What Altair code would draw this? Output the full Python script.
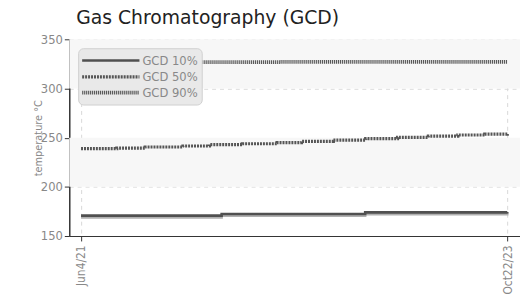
import altair as alt
import pandas as pd

series_names = ["GCD 10%", "GCD 50%", "GCD 90%"]

gcd10_dates = ["2021-06-04", "2022-03-18", "2023-01-05", "2023-10-22"]
gcd10_vals = [170.7, 172.3, 174.0, 174.3]

gcd50_dates = ["2021-06-04", "2021-08-16", "2021-10-13", "2021-12-29", "2022-02-21",
               "2022-04-29", "2022-07-09", "2022-08-28", "2022-11-01", "2023-01-06",
               "2023-03-12", "2023-05-14", "2023-07-13", "2023-09-06", "2023-10-22"]
gcd50_vals = [238.8, 239.3, 240.5, 241.5, 243.0, 243.8, 245.0, 246.2, 247.5, 249.0,
              250.3, 251.5, 252.7, 253.6, 254.3]

gcd90_dates = ["2021-06-04", "2022-07-15", "2023-10-22"]
gcd90_vals = [326.8, 327.0, 327.3]

band_lo = [300, 200]
band_hi = [350, 250]

rows = []
for name, ds, vs in [(series_names[0], gcd10_dates, gcd10_vals),
                     (series_names[1], gcd50_dates, gcd50_vals),
                     (series_names[2], gcd90_dates, gcd90_vals)]:
    for d, v in zip(ds, vs):
        rows.append({"date": d, "temp": v, "series": name})
df = pd.DataFrame(rows)
bands = pd.DataFrame({"lo": band_lo, "hi": band_hi})

FONT = "DejaVu Sans Condensed, Roboto Condensed, Liberation Sans Narrow, Roboto, sans-serif"
W, H = 456, 199

yscale = alt.Scale(domain=[150, 350], nice=False, zero=False)
xscale = alt.Scale(type="utc", domain=[alt.DateTime(year=2021, month=5, date=11, utc=True),
                                       alt.DateTime(year=2023, month=11, date=17, utc=True)], nice=False)

band_layer = alt.Chart(bands).mark_rect(color="#f7f7f7").encode(
    y=alt.Y("lo:Q", scale=yscale),
    y2="hi:Q",
    x=alt.value(0),
    x2=alt.value(W),
)

xaxis = alt.Axis(
    values=[alt.DateTime(year=2021, month=6, date=4, utc=True),
            alt.DateTime(year=2023, month=10, date=22, utc=True)],
    labelExpr="utcFormat(datum.value, '%b%-d/%y')",
    labelAngle=270, labelColor="#888", labelFontSize=12, labelFont=FONT,
    title=None, grid=True, gridDash=[4, 4], gridColor="#d8d8d8",
    domainColor="#333", tickColor="#333", tickSize=5, labelPadding=4,
)
yaxis = alt.Axis(
    values=[150, 200, 250, 300, 350],
    labelColor="#888", labelFontSize=13, labelFont=FONT,
    title="temperature °C", titleColor="#888", titleFontSize=11, titleFont=FONT,
    titleFontWeight="normal", titlePadding=-3,
    grid=True, gridDash=[4, 4], gridColor="#d8d8d8",
    domainColor="#333", tickColor="#333", tickSize=5, domainWidth=1.5,
)

shadow = alt.Chart(df).transform_filter(alt.datum.series == series_names[0]).mark_line(
    color="#b0b0b0", strokeWidth=2.5, yOffset=1.8, interpolate="step-after"
).encode(
    x=alt.X("date:T", scale=xscale, axis=xaxis),
    y=alt.Y("temp:Q", scale=yscale, axis=yaxis),
)

legend = alt.Legend(
    title=None, orient="none", legendX=9, legendY=9,
    fillColor="#e9e9e9", strokeColor="#cfcfcf", cornerRadius=5, padding=4,
    labelColor="#888", labelFontSize=13, labelFont=FONT, labelOffset=23,
    symbolType="M-4.14,0H4.14", symbolSize=196, symbolOffset=20, rowPadding=0,
)

lines = alt.Chart(df).mark_line(interpolate="step-after").encode(
    x=alt.X("date:T", scale=xscale, axis=xaxis),
    y=alt.Y("temp:Q", scale=yscale, axis=yaxis),
    color=alt.Color("series:N", scale=alt.Scale(domain=series_names, range=["#505050", "#555555", "#5a5a5a"]), legend=legend),
    strokeDash=alt.StrokeDash("series:N", scale=alt.Scale(domain=series_names, range=[[1, 0], [2, 1], [1.2, 0.8]]), legend=legend),
    strokeWidth=alt.StrokeWidth("series:N", scale=alt.Scale(domain=series_names, range=[2.6, 3.8, 2.5]), legend=legend),
)

chart = alt.layer(band_layer, shadow, lines).properties(
    width=W, height=H,
    title=alt.TitleParams("Gas Chromatography (GCD)", anchor="start", frame="group", dx=7, fontSize=19,
                          fontWeight="normal", font="DejaVu Sans", color="#222", offset=6),
    autosize=alt.AutoSizeParams(type="none"),
    padding={"left": 62, "top": 30, "right": 0, "bottom": 58},
).configure_view(stroke=None)

chart.save("out.html", embed_options={"renderer": "svg", "actions": False})
